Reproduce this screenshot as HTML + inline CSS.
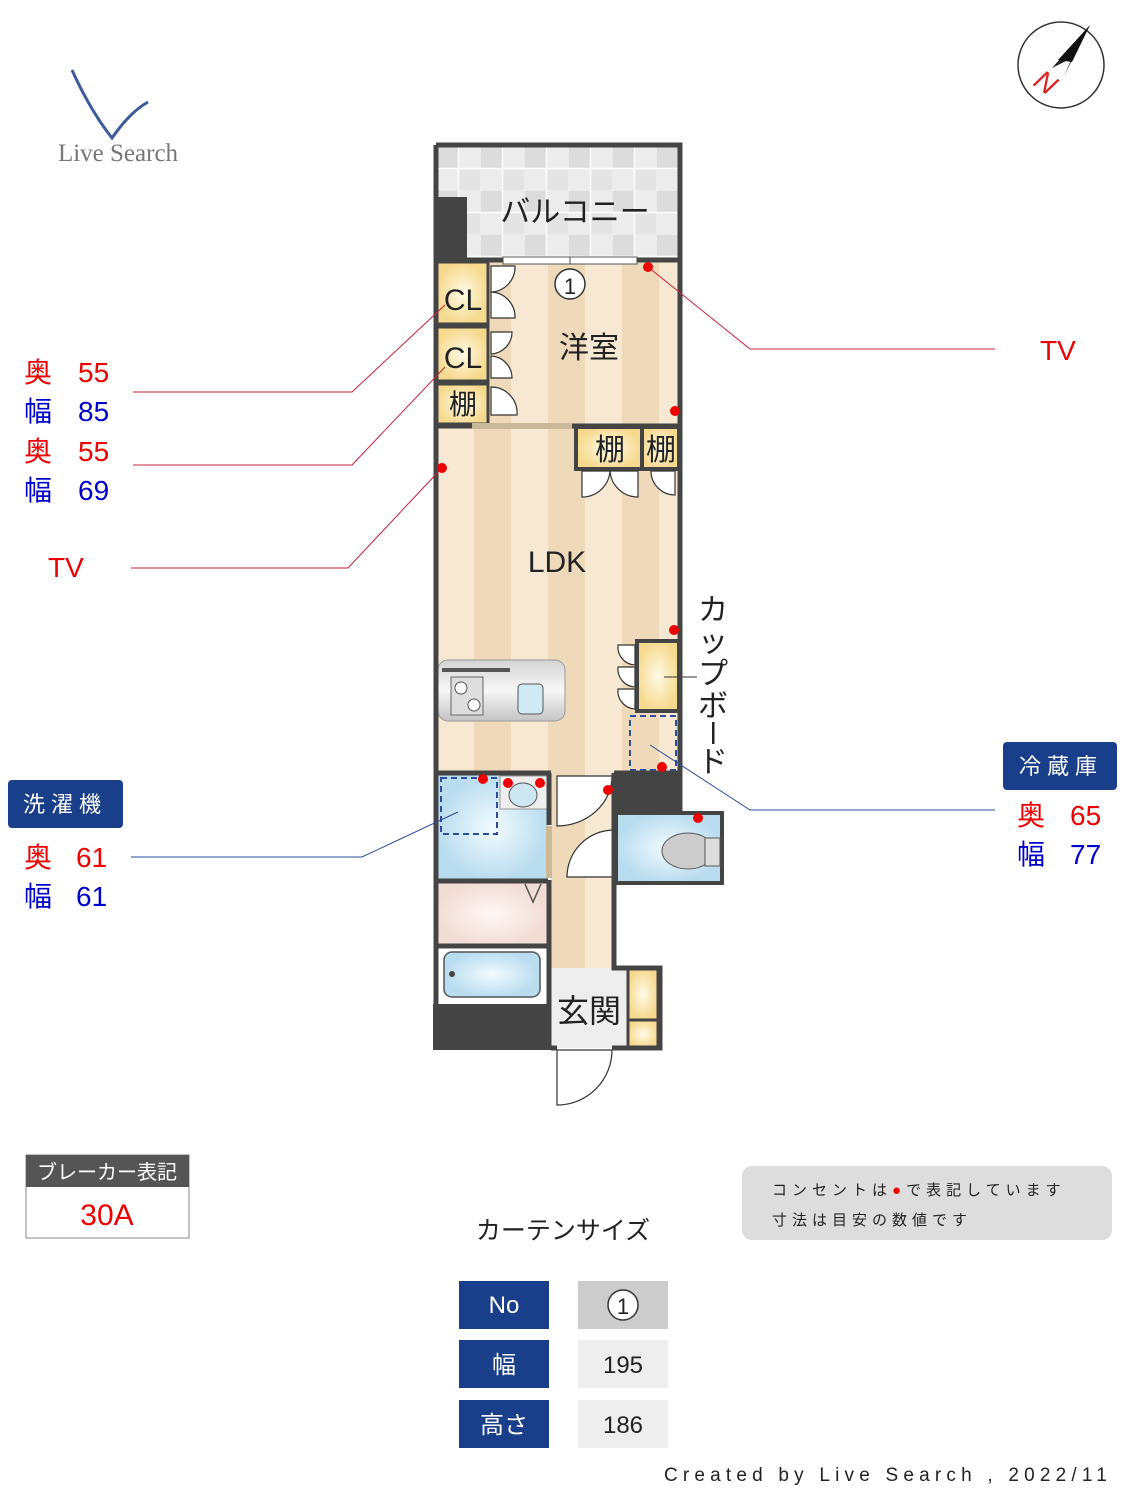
<!DOCTYPE html>
<html><head><meta charset="utf-8"><style>
html,body{margin:0;padding:0;background:#fff}
svg{display:block}
text{font-family:"Liberation Sans","Noto Sans CJK JP",sans-serif}
</style></head><body>
<svg width="1125" height="1500" viewBox="0 0 1125 1500" xmlns="http://www.w3.org/2000/svg">
<defs>
<pattern id="fl" x="437" y="0" width="74" height="10" patternUnits="userSpaceOnUse">
<rect width="74" height="10" fill="#f6e8d2"/><rect x="37" width="37" height="10" fill="#efd9bb"/></pattern>
<pattern id="tile" x="437" y="147" width="44" height="44" patternUnits="userSpaceOnUse">
<rect width="44" height="44" fill="#ececec"/><rect width="21" height="21" fill="#dcdcdc"/><rect x="22" y="22" width="21" height="21" fill="#e4e4e4"/>
<path d="M0 21.5H44M21.5 0V44" stroke="#fff" stroke-width="1.5"/></pattern>
<radialGradient id="cl"><stop offset="0" stop-color="#fffbe8"/><stop offset="1" stop-color="#f5d98e"/></radialGradient>
<radialGradient id="wt"><stop offset="0" stop-color="#f2fbff"/><stop offset="1" stop-color="#b9dcee"/></radialGradient>
<radialGradient id="pk"><stop offset="0" stop-color="#fff8f6"/><stop offset="1" stop-color="#f2ddd6"/></radialGradient>
<linearGradient id="st" x1="0" y1="0" x2="0" y2="1"><stop offset="0" stop-color="#d4d4d4"/><stop offset=".5" stop-color="#f7f7f7"/><stop offset="1" stop-color="#c4c4c4"/></linearGradient>
</defs>

<!-- logo -->
<path d="M72 70 Q90 110 112 138 Q130 112 148 102" fill="none" stroke="#3c5b9a" stroke-width="3"/>
<text x="118" y="161" style="font-family:'Liberation Serif',serif" font-size="25" fill="#777" text-anchor="middle">Live Search</text>

<!-- compass -->
<circle cx="1061" cy="65" r="43" fill="#fff" stroke="#333" stroke-width="1.5"/>
<polygon points="1090,25 1052,68 1072,58 1064,76" fill="#222"/>
<polygon points="1090,25 1058,60 1072,62" fill="#111"/>
<text x="1046" y="92" font-size="28" fill="#d22" font-style="italic" text-anchor="middle" transform="rotate(35 1046 82)">N</text>

<!-- balcony -->
<rect x="436" y="145" width="244" height="116" fill="url(#tile)"/>
<rect x="436" y="197" width="31" height="64" fill="#444"/>
<text x="575" y="222" font-size="30" fill="#222" text-anchor="middle">バルコニー</text>

<!-- floors -->
<rect x="437" y="262" width="243" height="510" fill="url(#fl)"/>
<rect x="551" y="772" width="63" height="196" fill="url(#fl)"/>

<!-- closets -->
<rect x="437" y="262" width="51" height="62" fill="url(#cl)" stroke="#444" stroke-width="3"/>
<rect x="437" y="327" width="51" height="54" fill="url(#cl)" stroke="#444" stroke-width="3"/>
<rect x="437" y="384" width="51" height="40" fill="url(#cl)" stroke="#444" stroke-width="3"/>
<text x="463" y="310" font-size="30" fill="#222" text-anchor="middle">CL</text>
<text x="463" y="368" font-size="30" fill="#222" text-anchor="middle">CL</text>
<text x="463" y="414" font-size="28" fill="#222" text-anchor="middle">棚</text>
<g fill="#fff" stroke="#333" stroke-width="1.2">
<path d="M491 266 v26 a25 25 0 0 0 24 -26z"/><path d="M491 318 v-26 a25 25 0 0 1 24 26z"/>
<path d="M491 332 v22 a22 22 0 0 0 21 -22z"/><path d="M491 378 v-22 a22 22 0 0 1 21 22z"/>
<path d="M491 415 v-28 a26 26 0 0 1 26 28z"/>
</g>
<text x="589" y="358" font-size="30" fill="#222" text-anchor="middle">洋室</text>
<circle cx="570" cy="284" r="15" fill="#fff" stroke="#333" stroke-width="1.5"/>
<text x="570" y="294" font-size="22" fill="#222" text-anchor="middle">1</text>
<rect x="503" y="257" width="134" height="7" fill="#fff" stroke="#555" stroke-width="1"/>
<line x1="570" y1="257" x2="570" y2="264" stroke="#555"/>

<!-- shelves LDK -->
<rect x="576" y="427" width="66" height="42" fill="url(#cl)" stroke="#444" stroke-width="4"/>
<rect x="642" y="427" width="37" height="42" fill="url(#cl)" stroke="#444" stroke-width="4"/>
<text x="610" y="460" font-size="30" fill="#222" text-anchor="middle">棚</text>
<text x="661" y="460" font-size="30" fill="#222" text-anchor="middle">棚</text>
<g fill="#fff" stroke="#333" stroke-width="1.2">
<path d="M582 471 h28 a28 28 0 0 1 -28 26z"/><path d="M638 471 h-28 a28 28 0 0 0 28 26z"/>
<path d="M675 471 h-24 a24 24 0 0 0 24 24z"/>
</g>
<text x="557" y="572" font-size="30" fill="#222" text-anchor="middle">LDK</text>

<!-- kitchen -->
<rect x="438" y="660" width="127" height="61" rx="10" fill="url(#st)" stroke="#999"/>
<rect x="442" y="668" width="68" height="4" fill="#555"/>
<rect x="451" y="677" width="32" height="38" fill="#ddd" stroke="#666"/>
<circle cx="461" cy="688" r="6" fill="#fff" stroke="#555"/><circle cx="474" cy="705" r="6" fill="#fff" stroke="#555"/>
<rect x="518" y="684" width="25" height="30" rx="4" fill="#cfe9f5" stroke="#555"/>

<!-- cupboard -->
<rect x="637" y="641" width="42" height="70" fill="url(#cl)" stroke="#444" stroke-width="4"/>
<g fill="#fff" stroke="#333" stroke-width="1.2">
<path d="M635 645 v20 a18 18 0 0 1 -17 -20z"/><path d="M635 667 v20 a18 18 0 0 1 -17 -20z"/><path d="M635 689 v20 a18 18 0 0 1 -17 -20z"/>
</g>
<line x1="664" y1="677" x2="697" y2="677" stroke="#333"/>
<rect x="630" y="716" width="46" height="54" fill="none" stroke="#2b4d9a" stroke-width="2" stroke-dasharray="6,4"/>
<text font-size="30" fill="#222"><tspan x="698" y="620">カ</tspan><tspan x="698" y="652">ッ</tspan><tspan x="698" y="684">プ</tspan><tspan x="698" y="716">ボ</tspan><tspan x="698" y="772">ド</tspan></text>
<rect x="712" y="722" width="2.5" height="22" fill="#222"/>

<!-- washroom -->
<rect x="437" y="775" width="111" height="106" fill="url(#wt)"/>
<rect x="500" y="776" width="47" height="33" fill="#eee" stroke="#999"/>
<ellipse cx="523" cy="795" rx="14" ry="12" fill="#cde6f2" stroke="#555"/>
<rect x="441" y="778" width="56" height="56" fill="none" stroke="#2b4d9a" stroke-width="2" stroke-dasharray="6,4"/>
<rect x="546" y="826" width="6" height="52" fill="#cbb894"/>
<rect x="437" y="883" width="110" height="62" fill="url(#pk)"/>
<path d="M525 884 L533 902 L541 884" fill="none" stroke="#555" stroke-width="1.5"/>
<rect x="437" y="947" width="110" height="57" fill="#fff"/>
<rect x="444" y="952" width="96" height="45" rx="8" fill="url(#wt)" stroke="#555" stroke-width="1.5"/>
<circle cx="452" cy="974" r="3" fill="#444"/>
<rect x="433" y="1004" width="118" height="46" fill="#444"/>

<!-- toilet -->
<rect x="614" y="772" width="68" height="40" fill="#444"/>
<rect x="616" y="813" width="106" height="70" fill="url(#wt)" stroke="#444" stroke-width="4"/>
<ellipse cx="688" cy="851" rx="26" ry="18" fill="#ccc" stroke="#555"/>
<rect x="705" y="838" width="15" height="28" fill="#ddd" stroke="#555"/>
<g fill="#fff" stroke="#333" stroke-width="1.2">
<path d="M557 776 h55 a55 50 0 0 1 -55 50z"/>
<path d="M614 830 v47 h-47 a47 47 0 0 1 47 -47z"/>
</g>

<!-- genkan -->
<rect x="551" y="968" width="77" height="80" fill="#eee"/>
<rect x="628" y="968" width="30" height="52" fill="url(#cl)" stroke="#444" stroke-width="3"/>
<rect x="628" y="1020" width="30" height="28" fill="url(#cl)" stroke="#444" stroke-width="3"/>
<text x="589" y="1022" font-size="32" fill="#222" text-anchor="middle">玄関</text>
<path d="M557 1050 v55 a55 55 0 0 0 55 -55z" fill="#fff" stroke="#333" stroke-width="1.2"/>

<!-- walls -->
<g fill="none" stroke="#444" stroke-width="5">
<path d="M436 145 H680 V772 M436 145 V1050"/>
<path d="M436 260 H503 M637 260 H680"/>
<path d="M436 426 H472 M572 426 H680"/>
<path d="M436 773 H551 M614 773 H680 V812"/>
<path d="M436 881 H548 M436 946 H548"/>
<path d="M549 773 V825 M549 880 V1050 M614 773 V968 H660 V1048 H612 M551 1048 H557"/>
</g>
<rect x="472" y="423" width="100" height="6" fill="#c9b89a"/>

<!-- outlets -->
<g fill="#e00">
<circle cx="648" cy="267" r="5"/><circle cx="675" cy="411" r="5"/><circle cx="442" cy="468" r="5"/><circle cx="674" cy="630" r="5"/>
<circle cx="662" cy="767" r="5"/><circle cx="483" cy="779" r="5"/><circle cx="508" cy="783" r="5"/><circle cx="540" cy="783" r="5"/>
<circle cx="608" cy="790" r="5"/><circle cx="698" cy="818" r="5"/>
</g>

<!-- leader lines -->
<g fill="none" stroke-width="1">
<path d="M133 392 H352 L445 305" stroke="#c8203a"/>
<path d="M133 465 H352 L445 367" stroke="#c8203a"/>
<path d="M131 568 H348 L440 470" stroke="#c8203a"/>
<path d="M995 349 H750 L648 267" stroke="#c8203a"/>
<path d="M995 810 H750 L650 745" stroke="#2b4d9a"/>
<path d="M131 857 H362 L458 812" stroke="#2b4d9a"/>
</g>

<!-- labels -->
<g font-size="28">
<text x="24" y="382" fill="#e00">奥</text><text x="78" y="382" fill="#e00">55</text>
<text x="24" y="421" fill="#00c">幅</text><text x="78" y="421" fill="#00c">85</text>
<text x="24" y="461" fill="#e00">奥</text><text x="78" y="461" fill="#e00">55</text>
<text x="24" y="500" fill="#00c">幅</text><text x="78" y="500" fill="#00c">69</text>
<text x="48" y="577" fill="#e00">TV</text>
<text x="1040" y="360" fill="#e00">TV</text>
<text x="24" y="867" fill="#e00">奥</text><text x="76" y="867" fill="#e00">61</text>
<text x="24" y="906" fill="#00c">幅</text><text x="76" y="906" fill="#00c">61</text>
<text x="1017" y="825" fill="#e00">奥</text><text x="1070" y="825" fill="#e00">65</text>
<text x="1017" y="864" fill="#00c">幅</text><text x="1070" y="864" fill="#00c">77</text>
</g>
<rect x="8" y="780" width="115" height="48" rx="4" fill="#1a3f8a"/>
<text x="65" y="812" font-size="22" fill="#fff" text-anchor="middle" letter-spacing="6">洗濯機</text>
<rect x="1003" y="742" width="114" height="48" rx="4" fill="#1a3f8a"/>
<text x="1061" y="774" font-size="22" fill="#fff" text-anchor="middle" letter-spacing="6">冷蔵庫</text>

<!-- breaker -->
<rect x="26" y="1155" width="163" height="83" fill="#fff" stroke="#888"/>
<rect x="26" y="1155" width="163" height="32" fill="#555"/>
<text x="107" y="1179" font-size="20" fill="#fff" text-anchor="middle">ブレーカー表記</text>
<text x="107" y="1225" font-size="30" fill="#e00" text-anchor="middle">30A</text>

<!-- note -->
<rect x="742" y="1166" width="370" height="74" rx="10" fill="#ddd"/>
<text x="772" y="1195" font-size="15" fill="#222" letter-spacing="5">コンセントは<tspan fill="#e00">●</tspan>で表記しています</text>
<text x="772" y="1225" font-size="15" fill="#222" letter-spacing="5">寸法は目安の数値です</text>

<!-- curtain -->
<text x="563" y="1239" font-size="25" fill="#222" text-anchor="middle">カーテンサイズ</text>
<rect x="459" y="1281" width="90" height="48" fill="#1a3f8a"/><text x="504" y="1313" font-size="24" fill="#fff" text-anchor="middle">No</text>
<rect x="578" y="1281" width="90" height="48" fill="#ccc"/>
<circle cx="623" cy="1305" r="15" fill="#fff" stroke="#333" stroke-width="1.5"/><text x="623" y="1314" font-size="22" fill="#222" text-anchor="middle">1</text>
<rect x="459" y="1340" width="90" height="48" fill="#1a3f8a"/><text x="504" y="1373" font-size="24" fill="#fff" text-anchor="middle">幅</text>
<rect x="578" y="1340" width="90" height="48" fill="#eee"/><text x="623" y="1373" font-size="24" fill="#222" text-anchor="middle">195</text>
<rect x="459" y="1400" width="90" height="48" fill="#1a3f8a"/><text x="504" y="1433" font-size="24" fill="#fff" text-anchor="middle">高さ</text>
<rect x="578" y="1400" width="90" height="48" fill="#eee"/><text x="623" y="1433" font-size="24" fill="#222" text-anchor="middle">186</text>

<text x="1112" y="1481" font-size="19" fill="#222" text-anchor="end" letter-spacing="5.2">Created by Live Search , 2022/11</text>
</svg>
</body></html>
